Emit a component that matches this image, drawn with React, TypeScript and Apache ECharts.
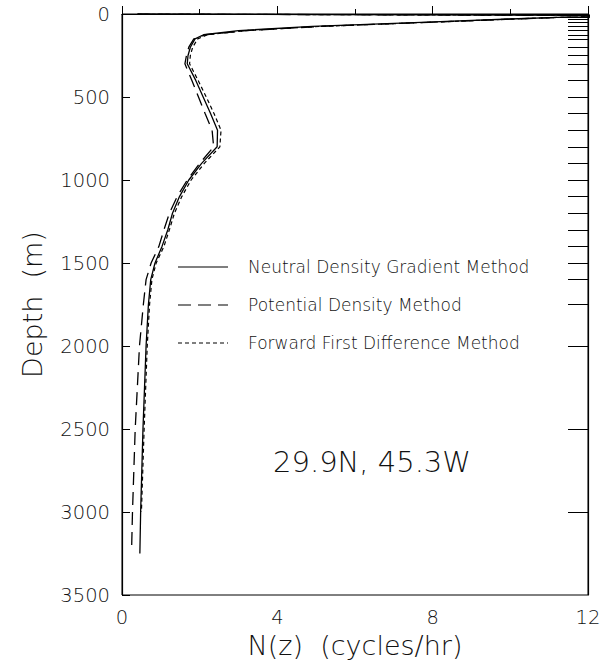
import React, { useEffect, useRef } from "react";
import * as echarts from "echarts";

// Sample depths (m)
const depthLevels = [0, 10, 20, 30, 50, 75, 100, 125, 150, 200, 250, 300, 400, 500, 600, 700, 800, 900, 1000, 1100, 1200, 1300, 1400, 1500, 1600, 1750, 2000, 2500, 3000, 3250];
const potentialDepths = [0, 10, 20, 30, 50, 75, 100, 125, 150, 200, 250, 300, 400, 500, 600, 700, 800, 900, 1000, 1100, 1200, 1300, 1400, 1500, 1600, 1750, 2000, 2500, 3000, 3200];
const forwardDepths = [0, 10, 20, 30, 50, 75, 100, 125, 150, 200, 250, 300, 400, 500, 600, 700, 800, 900, 1000, 1100, 1200, 1300, 1400, 1500, 1600, 1750, 2000, 2500, 3000];
const markerDepths = [0, 10, 20, 30, 50, 75, 100, 125, 150, 200, 250, 300, 400, 500, 600, 700, 800, 900, 1000, 1100, 1200, 1300, 1400, 1500, 1600, 1750, 2000, 2500, 3000];

// N(z) values (cycles/hr)
const neutralN = [0.4, 14, 11.2, 10.0, 7.7, 4.9, 3.0, 2.1, 1.88, 1.76, 1.7, 1.68, 1.9, 2.09, 2.28, 2.46, 2.45, 2.05, 1.72, 1.48, 1.3, 1.18, 1.03, 0.85, 0.74, 0.68, 0.62, 0.54, 0.48, 0.46];
const potentialN = [0.4, 14, 11.3, 10.1, 7.9, 5.1, 3.2, 2.15, 1.85, 1.72, 1.66, 1.62, 1.8, 1.97, 2.14, 2.32, 2.36, 2.0, 1.68, 1.42, 1.22, 1.08, 0.95, 0.75, 0.62, 0.55, 0.45, 0.34, 0.27, 0.25];
const forwardN = [0.4, 14, 11.3, 10.1, 7.9, 5.1, 3.2, 2.2, 1.95, 1.82, 1.76, 1.74, 1.96, 2.17, 2.37, 2.55, 2.52, 2.12, 1.78, 1.54, 1.35, 1.22, 1.08, 0.88, 0.77, 0.71, 0.65, 0.57, 0.5];

const seriesNames = ["Neutral Density Gradient Method", "Potential Density Method", "Forward First Difference Method"];
const locationLabel = "29.9N, 45.3W";
const xTitle = "N(z)  (cycles/hr)";
const yTitle = "Depth  (m)";

const FONT = "DejaVu Sans";
const W = 200;

export default function App() {
  const ref = useRef<HTMLDivElement>(null);
  useEffect(() => {
    if (!ref.current) return;
    const chart = echarts.init(ref.current, null, { renderer: "svg" });
    const pair = (xs: number[], ds: number[]) => xs.map((v, i) => [v, ds[i]]);
    const lineTypes: any[] = ["solid", [13, 7], [4, 3]];
    const legendY = [267, 305, 343];
    const graphic: any[] = [];
    seriesNames.forEach((n, i) => {
      graphic.push({
        type: "line",
        shape: { x1: 178, y1: legendY[i], x2: 228, y2: legendY[i] },
        style: { stroke: "#000", lineWidth: 1.2, lineDash: lineTypes[i] === "solid" ? null : lineTypes[i] },
      });
      graphic.push({
        type: "text",
        x: 248,
        y: legendY[i],
        style: { text: n, fontFamily: FONT, fontSize: 17, fontWeight: W, fill: "#111", verticalAlign: "middle" },
      });
    });
    graphic.push({
      type: "text",
      x: 372,
      y: 462,
      style: { text: locationLabel, fontFamily: FONT, fontSize: 29, fontWeight: W, fill: "#111", align: "center", verticalAlign: "middle" },
    });

    const lbl = { fontFamily: FONT, fontSize: 19.5, fontWeight: W, color: "#111", margin: 12, formatter: (v: number) => String(v) };
    const ttl = { fontFamily: FONT, fontSize: 27, fontWeight: W, color: "#111" };

    chart.setOption({
      animation: false,
      backgroundColor: "#fff",
      grid: { left: 122, right: 21, top: 14, bottom: 72, show: true, borderColor: "#000", borderWidth: 1, backgroundColor: "transparent" },
      xAxis: {
        type: "value",
        min: 0,
        max: 12,
        interval: 4,
        axisLine: { show: true, lineStyle: { color: "#000", width: 1.2 } },
        axisTick: { show: true, inside: true, length: 8, lineStyle: { color: "#000" } },
        minorTick: { show: true, splitNumber: 2, length: 5, lineStyle: { color: "#000" } },
        axisLabel: lbl,
        splitLine: { show: false },
        name: xTitle,
        nameLocation: "middle",
        nameGap: 37,
        nameTextStyle: ttl,
      },
      yAxis: [
        {
          type: "value",
          inverse: true,
          min: 0,
          max: 3500,
          interval: 500,
          axisLine: { show: true, lineStyle: { color: "#000", width: 1.2 } },
          axisTick: { show: true, inside: true, length: 8, lineStyle: { color: "#000" } },
          axisLabel: lbl,
          splitLine: { show: false },
          name: yTitle,
          nameLocation: "middle",
          nameGap: 76,
          nameTextStyle: ttl,
        },
        {
          type: "value",
          position: "right",
          inverse: true,
          min: 0,
          max: 3500,
          interval: 500,
          axisLine: { show: true, lineStyle: { color: "#000", width: 1.2 } },
          axisTick: { show: true, inside: true, length: 20, customValues: markerDepths, lineStyle: { color: "#000" } },
          axisLabel: { show: false },
          splitLine: { show: false },
        },
      ],
      graphic,
      series: [
        {
          name: seriesNames[0],
          type: "line",
          data: pair(neutralN, depthLevels),
          showSymbol: false,
          symbol: "none",
          clip: true,
          lineStyle: { color: "#000", width: 1.3, type: "solid" },
        },
        {
          name: seriesNames[1],
          type: "line",
          data: pair(potentialN, potentialDepths),
          showSymbol: false,
          symbol: "none",
          clip: true,
          lineStyle: { color: "#000", width: 1.3, type: [13, 7] },
        },
        {
          name: seriesNames[2],
          type: "line",
          data: pair(forwardN, forwardDepths),
          showSymbol: false,
          symbol: "none",
          clip: true,
          lineStyle: { color: "#000", width: 1.2, type: [4, 3] },
        },
      ],
    });
    return () => chart.dispose();
  }, []);
  return <div ref={ref} style={{ position: "fixed", left: 0, top: 0, width: 609, height: 667, background: "#fff" }} />;
}
